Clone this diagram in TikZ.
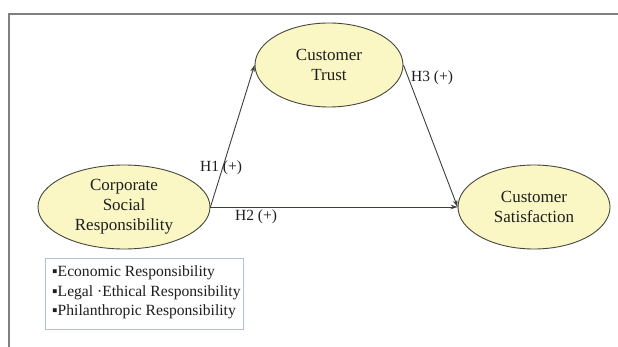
\documentclass[tikz,border=0pt]{standalone}
\usepackage{fontspec}
\setmainfont{Liberation Serif}
\usetikzlibrary{shapes.geometric,arrows.meta}
\definecolor{ellfill}{RGB}{250,247,196}
\definecolor{ellline}{RGB}{70,70,60}
\definecolor{framegray}{RGB}{128,128,128}
\definecolor{boxline}{RGB}{180,192,212}
\definecolor{txt}{RGB}{30,30,30}
\tikzset{
  construct/.style={ellipse, draw=ellline, line width=0.9pt, fill=ellfill, inner sep=0pt,
    minimum height=84pt, align=center, text=txt, font=\fontsize{17}{20}\selectfont},
  path/.style={draw=ellline!90!black, line width=0.9pt, -{Stealth[length=7pt,width=4.5pt]}},
  hlabel/.style={text=txt, font=\fontsize{15.5}{18}\selectfont, inner sep=1pt},
  listitem/.style={text=txt, font=\fontsize{15.6}{18}\selectfont, anchor=west, inner sep=0pt}
}
\begin{document}
\begin{tikzpicture}[x=1pt,y=-1pt]
\useasboundingbox (0,0) rectangle (618,347);
\fill[white] (0,0) rectangle (618,347);
% frame (top and left edges visible)
\draw[framegray, line width=1.8pt] (618,14) -- (9,14) -- (9,347);
% constructs
\node[construct, minimum width=148pt] (trust) at (329,65) {Customer\\Trust};
\node[construct, minimum width=172pt] (csr) at (124,207) {Corporate\\Social\\Responsibility};
\node[construct, minimum width=152pt] (sat) at (534,207) {Customer\\Satisfaction};
% paths
\draw[path] (csr.east) -- (trust.west);
\draw[path] (trust.east) -- (sat.west);
\draw[path] (csr.east) -- (sat.west);
% labels
\node[hlabel] (h1) at (221,168) {H1 (+)};
\node[hlabel] (h2) at (256,217) {H2 (+)};
\node[hlabel] (h3) at (432,78) {H3 (+)};
% dimension box
\draw[boxline, line width=0.8pt] (45,258) rectangle (243,329);
\node[listitem] (l1) at (52,273) {▪Economic Responsibility};
\node[listitem] (l2) at (52,292.5) {▪Legal ·Ethical Responsibility};
\node[listitem] (l3) at (52,312) {▪Philanthropic Responsibility};
\end{tikzpicture}
\end{document}
